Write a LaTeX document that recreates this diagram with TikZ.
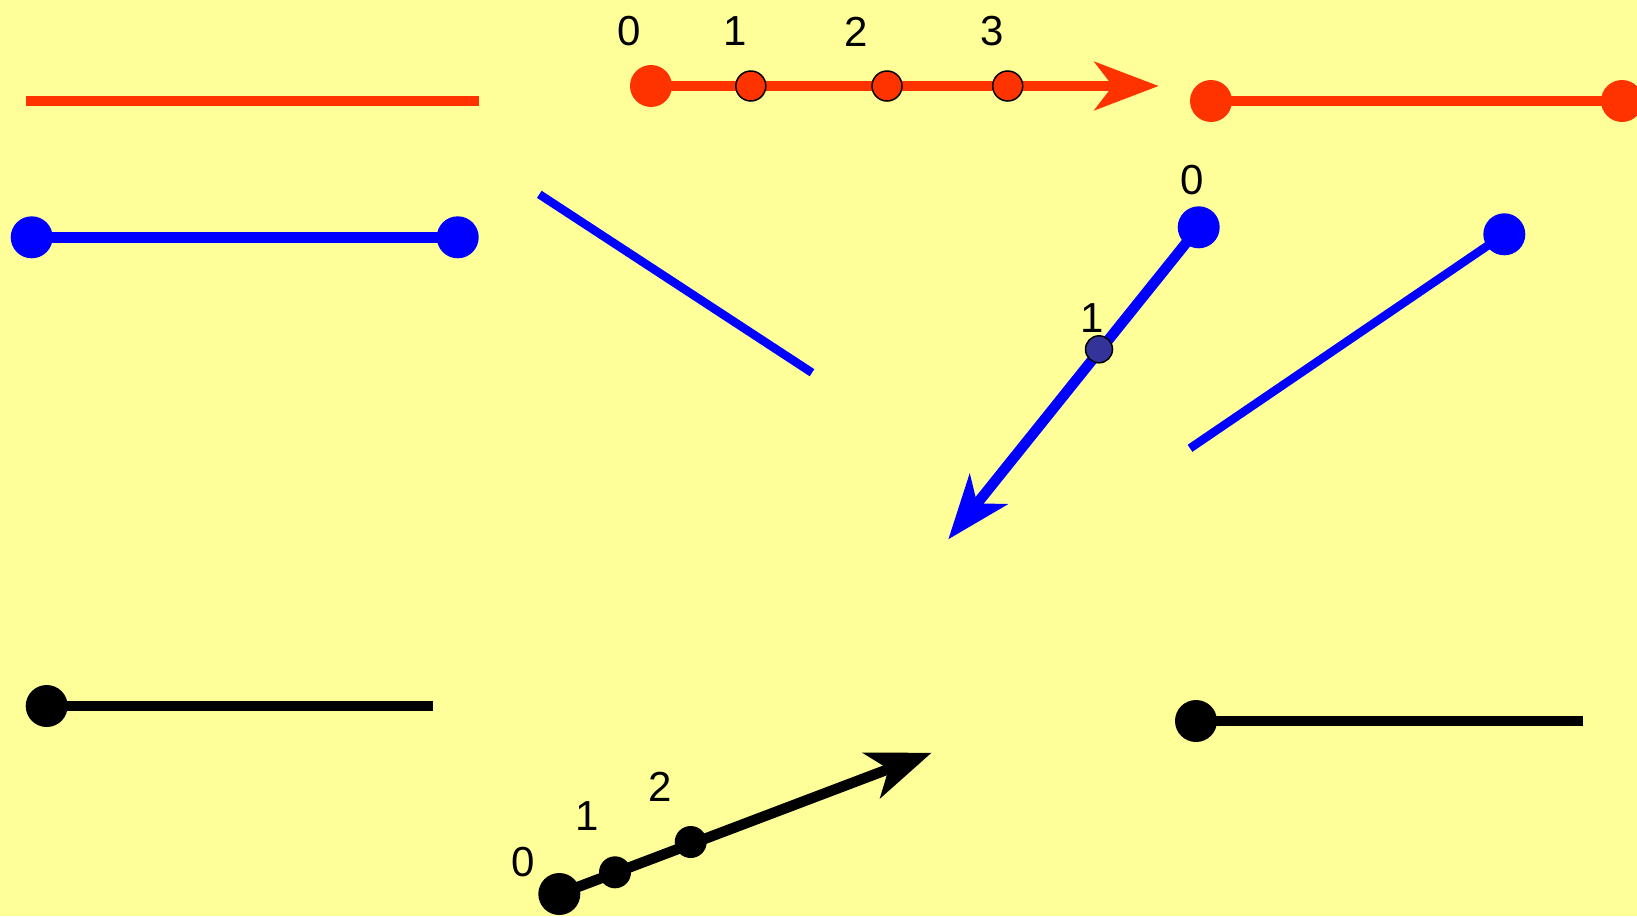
\documentclass[tikz,border=0pt]{standalone}
\usepackage{fontspec}
\setmainfont{Liberation Sans}
\usetikzlibrary{arrows.meta}
\definecolor{bgyellow}{HTML}{FFFF99}
\definecolor{segred}{HTML}{FF3300}
\definecolor{segblue}{HTML}{0000FF}
\definecolor{darkdot}{HTML}{333399}
\pgfdeclarelayer{back}
\pgfdeclarelayer{lines}
\pgfsetlayers{back,lines,main}
\tikzset{
  bigdot/.style={circle, inner sep=0pt, minimum size=42pt, fill=#1, draw=none},
  smalldot/.style={circle, inner sep=0pt, minimum size=30pt, fill=#1, draw=black, line width=1.5pt},
  blackdot/.style={circle, inner sep=0pt, minimum size=32pt, fill=black, draw=none},
  seg/.style={line width=10.5pt, draw=#1},
  thinseg/.style={line width=8.5pt, draw=#1},
  tip/.style={-{Stealth[length=64pt, width=48pt, inset=18pt]}},
  lbl/.style={inner sep=0pt, font=\fontsize{42}{50}\selectfont, text=black}
}
\begin{document}
\begin{tikzpicture}[x=1pt, y=-1pt]
\begin{pgfonlayer}{back}
  \fill[bgyellow] (0,0) rectangle (1637,916);
\end{pgfonlayer}
\useasboundingbox (0,0) rectangle (1637,916);

% ---------- nodes ----------
% red top-left plain segment
\coordinate (rl1) at (25.7,101);
\coordinate (rl2) at (479,101);
% red ray with ticks
\node[bigdot=segred] (r0) at (651,86) {};
\node[smalldot=segred] (r1) at (750.8,86) {};
\node[smalldot=segred] (r2) at (887,86) {};
\node[smalldot=segred] (r3) at (1007.7,86) {};
\coordinate (rtip) at (1158.7,86);
\node[lbl] (rl0) at (629,31.5) {0};
\node[lbl] (rlb1) at (735,31.5) {1};
\node[lbl] (rlb2) at (856,31.5) {2};
\node[lbl] (rlb3) at (992.5,31.5) {3};
% red right segment
\node[bigdot=segred] (ra) at (1211,101) {};
\node[bigdot=segred] (rb) at (1622,101) {};

% blue left segment
\node[bigdot=segblue] (ba) at (31.7,237.3) {};
\node[bigdot=segblue] (bb) at (457.7,237.3) {};
% blue slanted line
\coordinate (bs1) at (539.3,194.3);
\coordinate (bs2) at (812,372.7);
% blue ray
\node[bigdot=segblue] (bq0) at (1198.7,227.3) {};
\node[smalldot=darkdot, minimum size=27pt] (bq1) at (1099,349.3) {};
\coordinate (btip) at (948.3,539.3);
\node[lbl] (bl0) at (1192,180.5) {0};
\node[lbl] (bl1) at (1092,318) {1};
% blue right segment
\node[bigdot=segblue] (bt) at (1504.3,234.3) {};
\coordinate (be) at (1190,448.3);

% black left
\node[bigdot=black] (ka) at (46.7,706) {};
\coordinate (kb) at (433.3,706);
% black right
\node[bigdot=black] (kc) at (1196,721) {};
\coordinate (kd) at (1582.7,721);
% black ray
\node[bigdot=black] (k0) at (559.3,894) {};
\node[blackdot] (k1) at (615,872.3) {};
\node[blackdot] (k2) at (690.7,842) {};
\coordinate (ktip) at (931.7,752.7);
\node[lbl] (kl0) at (523.3,862) {0};
\node[lbl] (kl1) at (586.7,816) {1};
\node[lbl] (kl2) at (660,787) {2};

% ---------- lines ----------
\begin{pgfonlayer}{lines}
  \draw[seg=segred] (rl1) -- (rl2);
  \draw[seg=segred, tip] (r0.center) -- (rtip);
  \draw[seg=segred] (ra.center) -- (rb.center);
  \draw[seg=segblue] (ba.center) -- (bb.center);
  \draw[thinseg=segblue] (bs1) -- (bs2);
  \draw[seg=segblue, tip] (bq0.center) -- (btip);
  \draw[thinseg=segblue] (bt.center) -- (be);
  \draw[seg=black] (ka.center) -- (kb);
  \draw[seg=black] (kc.center) -- (kd);
  \draw[seg=black, tip] (k0.center) -- (ktip);
\end{pgfonlayer}
\end{tikzpicture}
\end{document}
